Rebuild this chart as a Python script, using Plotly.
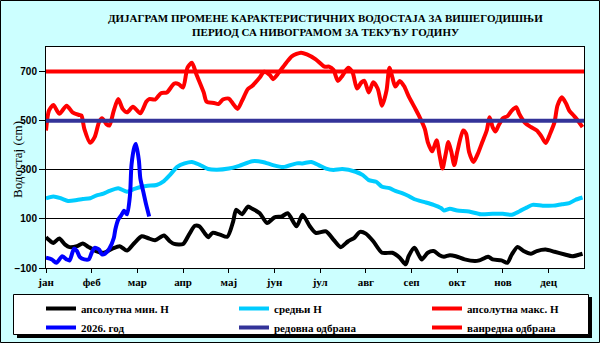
import plotly.graph_objects as go

# ---------------------------------------------------------------- data
month_labels = ["јан", "феб", "мар", "апр", "мај", "јун",
                "јул", "авг", "сеп", "окт", "нов", "дец"]
tick_days = [31 * i for i in range(12)]

# апсолутна мин. H
min_day = [0, 3, 5, 9, 13, 16, 21, 25, 29, 34, 39, 45, 50, 55, 60, 65, 69, 74,
           80, 84, 87, 93, 97, 101, 104, 108, 110, 113, 118, 123, 127, 129,
           133, 137, 140, 145, 150, 155, 160, 164, 170, 174, 179, 183, 190,
           195, 200, 205, 209, 213, 217, 222, 228, 235, 240, 244, 246, 250,
           253, 255, 259, 263, 267, 270, 274, 278, 284, 291, 294, 300, 303,
           309, 313, 316, 320, 324, 329, 333, 339, 345, 352, 357, 364]
min_h = [25, 9, 2, 20, -5, -15, -11, 0, -15, -31, -38, -21, -11, -29, 2, 29,
         22, 13, 32, 9, -2, -2, 36, 72, 70, 39, 25, 43, 36, 27, 90, 137, 119,
         150, 141, 123, 83, 106, 110, 123, 70, 117, 70, 43, 49, 16, -15, 9,
         22, 47, 40, 9, -38, -38, -58, -85, -52, -18, -48, -65, -38, -31,
         -48, -54, -48, -52, -65, -72, -69, -54, -65, -69, -79, -45, -14,
         -31, -42, -31, -25, -34, -45, -52, -42]

# средњи H
mean_day = [0, 5, 10, 15, 21, 25, 30, 34, 39, 43, 49, 55, 60, 65, 69, 75, 80,
            84, 89, 94, 99, 104, 110, 116, 124, 131, 140, 147, 154, 161, 170,
            174, 180, 185, 190, 195, 201, 210, 215, 219, 224, 228, 233, 237,
            242, 246, 250, 257, 263, 268, 270, 274, 279, 287, 295, 303, 310,
            316, 321, 326, 330, 337, 344, 350, 355, 359, 364]
mean_h = [184, 191, 184, 173, 177, 181, 184, 195, 203, 214, 225, 211, 222,
          231, 235, 238, 254, 278, 312, 326, 332, 321, 303, 300, 305, 316,
          335, 332, 319, 311, 326, 326, 332, 319, 305, 299, 303, 292, 278,
          258, 251, 231, 225, 214, 204, 193, 180, 168, 157, 144, 134, 141,
          134, 130, 119, 121, 121, 117, 130, 146, 157, 154, 154, 160, 164,
          177, 187]

# апсолутна макс. H
max_day = [0, 2, 5, 9, 14, 18, 22, 24, 26, 30, 33, 36, 38, 41, 43, 46, 49, 52,
           55, 59, 64, 68, 70, 74, 78, 82, 87, 90, 93, 96, 99, 102, 107, 109,
           114, 117, 120, 124, 127, 130, 133, 137, 140, 145, 148, 152, 154,
           158, 163, 167, 173, 177, 183, 189, 192, 195, 198, 201, 205, 208,
           211, 214, 216, 219, 222, 225, 228, 231, 233, 235, 237, 240, 243,
           246, 250, 253, 257, 259, 262, 265, 267, 269, 271, 273, 275, 277,
           279, 283, 285, 287, 290, 293, 296, 299, 301, 303, 305, 307, 310,
           313, 316, 319, 321, 325, 329, 333, 336, 339, 342, 345, 347, 350,
           353, 355, 358, 360, 364]
max_h = [460, 541, 564, 528, 561, 534, 524, 521, 467, 410, 433, 494, 510, 486,
         480, 541, 588, 548, 534, 557, 530, 577, 588, 586, 612, 615, 651, 649,
         635, 716, 736, 689, 615, 577, 572, 568, 586, 590, 568, 548, 581, 629,
         642, 676, 699, 685, 669, 696, 736, 763, 777, 770, 750, 720, 720, 707,
         662, 682, 716, 696, 631, 656, 662, 615, 656, 631, 561, 622, 716, 676,
         639, 662, 640, 600, 555, 521, 467, 413, 375, 420, 359, 305, 359, 413,
         373, 319, 373, 460, 447, 373, 332, 366, 413, 460, 514, 474, 456, 480,
         510, 518, 541, 555, 528, 491, 474, 460, 437, 409, 447, 494, 561, 595,
         568, 541, 521, 507, 474]

# 2026. год
cur_day = [0, 4, 7, 11, 14, 16, 19, 21, 23, 26, 29, 31, 33, 36, 38, 40, 43,
           46, 47, 49, 51, 53, 55, 57, 58, 60, 61, 63, 64, 66, 68, 70]
cur_h = [-58, -65, -79, -52, -65, -69, -21, -31, -56, -65, -65, -38, -18,
         -25, -45, -42, -21, 22, 56, 97, 114, 133, 119, 198, 319, 393, 405,
         339, 265, 211, 157, 110]

regular_defence = 500
emergency_defence = 700
year_span = [0, 365]

assert len(min_day) == len(min_h)
assert len(mean_day) == len(mean_h)
assert len(max_day) == len(max_h)
assert len(cur_day) == len(cur_h)

# ---------------------------------------------------------------- layout helpers
W, H = 600, 343
ML, MR, MT, MB = 46, 16, 47, 75
PW, PH = W - ML - MR, H - MT - MB


def fx(px):
    return (px - ML) / PW


def fy(py):
    return (H - MB - py) / PH


SERIF = "Liberation Serif, Times New Roman, serif"
SANS = "Liberation Sans, Arial, sans-serif"
BG = "#CCFFFF"

fig = go.Figure()


def curve(x, y, name, color, legend, shape="spline"):
    fig.add_trace(go.Scatter(
        x=x, y=y, name=name, mode="lines", legend=legend,
        legendgroup=name,
        line=dict(color=color, width=4, shape=shape, smoothing=0.7),
        hoverinfo="skip",
    ))


curve(min_day, min_h, "апсолутна мин. H", "#000000", "legend")
curve(mean_day, mean_h, "средњи H", "#00CCFF", "legend2")
curve(max_day, max_h, "апсолутна макс. H", "#FF0000", "legend3")
curve(cur_day, cur_h, "2026. год", "#0000FF", "legend")
curve(year_span, [regular_defence] * 2, "редовна одбрана", "#333399",
      "legend2", shape="linear")
curve(year_span, [emergency_defence] * 2, "ванредна одбрана", "#FF0000",
      "legend3", shape="linear")

legend_common = dict(
    orientation="v", xanchor="left", yanchor="top",
    bgcolor="rgba(0,0,0,0)", borderwidth=0,
    font=dict(family=SERIF, size=11, color="#000000", weight="bold"),
    tracegroupgap=0, itemwidth=30,
)

fig.update_layout(
    width=W, height=H,
    margin=dict(l=ML, r=MR, t=MT, b=MB, pad=0, autoexpand=False),
    paper_bgcolor=BG, plot_bgcolor="#FFFFFF",
    showlegend=True,
    legend=dict(legend_common, x=fx(41), y=fy(294)),
    legend2=dict(legend_common, x=fx(234), y=fy(294)),
    legend3=dict(legend_common, x=fx(427), y=fy(294)),
    xaxis=dict(
        range=[0, 365], tickmode="array", tickvals=tick_days,
        ticktext=month_labels,
        ticks="outside", ticklen=4, tickcolor="#000000", tickwidth=1,
        showgrid=False, zeroline=False,
        showline=True, linecolor="#000000", linewidth=1, mirror=True,
        tickfont=dict(family=SERIF, size=11, color="#000000", weight="bold"),
    ),
    yaxis=dict(
        range=[-100, 800], tick0=-100, dtick=200,
        ticks="outside", ticklen=6, tickcolor="#000000", tickwidth=1,
        showgrid=True, gridcolor="#000000", gridwidth=1, zeroline=False,
        showline=True, linecolor="#000000", linewidth=1, mirror=True,
        tickfont=dict(family=SANS, size=10, color="#000000", weight="bold"),
    ),
    shapes=[
        # outer frame of the chart
        dict(type="rect", xref="paper", yref="paper", layer="below",
             x0=fx(0.5), x1=fx(599.5), y0=fy(342.5), y1=fy(0.5),
             line=dict(color="#000000", width=1), fillcolor="rgba(0,0,0,0)"),
        # legend shadow and box
        dict(type="rect", xref="paper", yref="paper", layer="below",
             x0=fx(17), x1=fx(592), y0=fy(338), y1=fy(297),
             line=dict(width=0), fillcolor="#000000"),
        dict(type="rect", xref="paper", yref="paper", layer="below",
             x0=fx(13.5), x1=fx(588.5), y0=fy(334.5), y1=fy(294.5),
             line=dict(color="#000000", width=1), fillcolor="#FFFFFF"),
    ],
    annotations=[
        dict(text="<b>ДИЈАГРАМ ПРОМЕНЕ КАРАКТЕРИСТИЧНИХ ВОДОСТАЈА ЗА ВИШЕГОДИШЊИ</b>",
             xref="paper", yref="paper", x=fx(325), y=fy(17.5),
             xanchor="center", yanchor="middle", showarrow=False,
             font=dict(family=SERIF, size=11, color="#000000")),
        dict(text="<b>ПЕРИОД СА НИВОГРАМОМ ЗА ТЕКУЋУ ГОДИНУ</b>",
             xref="paper", yref="paper", x=fx(325), y=fy(32),
             xanchor="center", yanchor="middle", showarrow=False,
             font=dict(family=SERIF, size=11, color="#000000")),
        dict(text="Водостај (cm)", textangle=-90,
             xref="paper", yref="paper", x=fx(17), y=fy(160),
             xanchor="center", yanchor="middle", showarrow=False,
             font=dict(family=SERIF, size=13, color="#000000")),
    ],
)

fig.write_html("out.html")
